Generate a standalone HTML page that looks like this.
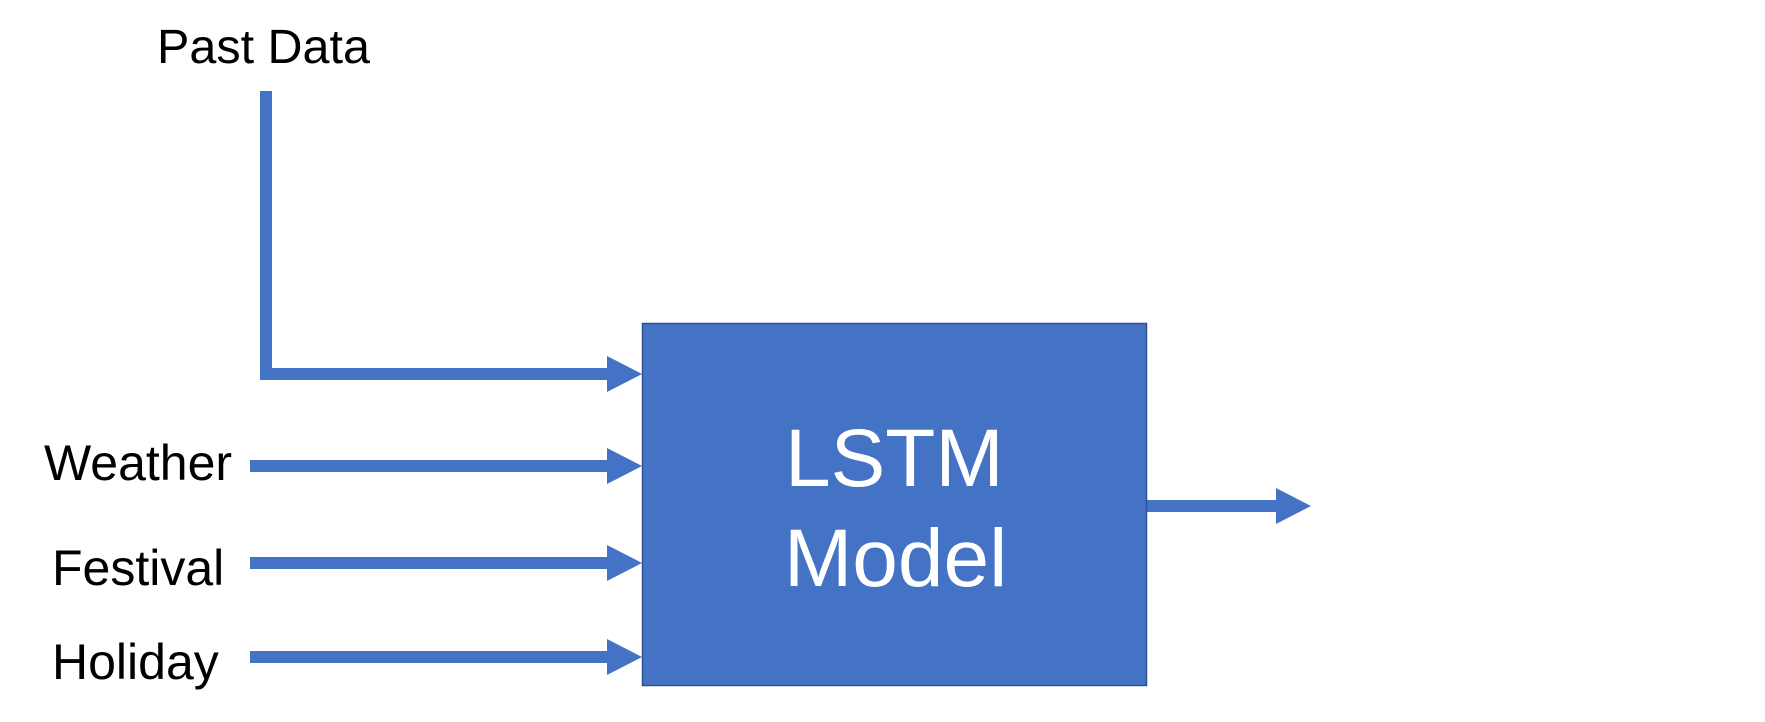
<!DOCTYPE html>
<html><head><meta charset="utf-8"><style>
html,body{margin:0;padding:0;background:#fff;}
svg{display:block;}
text{font-family:"Liberation Sans",Arial,sans-serif;}
</style></head><body>
<svg width="1765" height="722" viewBox="0 0 1765 722">
<g fill="#4472C4">
<rect x="260" y="91" width="12" height="289"/>
<rect x="260" y="368" width="350" height="12"/>
<polygon points="607,356 642,374 607,392"/>
<rect x="250" y="460" width="360" height="12"/>
<polygon points="607,448 642,466 607,484"/>
<rect x="250" y="557" width="360" height="12"/>
<polygon points="607,545 642,563 607,581"/>
<rect x="250" y="651" width="360" height="12"/>
<polygon points="607,639 642,657 607,675"/>
<rect x="1147" y="500" width="132" height="12"/>
<polygon points="1276,488 1311,506 1276,524"/>
</g>
<rect x="642.5" y="323.5" width="504" height="362" fill="#4472C4" stroke="#2F528F" stroke-width="1.5"/>
<text x="785" y="486" font-size="82" fill="#fff">LSTM</text>
<text x="784" y="586" font-size="82" fill="#fff">Model</text>
<text x="157" y="63" font-size="48.5" fill="#000">Past Data</text>
<text x="44" y="480" font-size="50" fill="#000">Weather</text>
<text x="52" y="585" font-size="50" fill="#000">Festival</text>
<text x="52" y="679" font-size="50" fill="#000">Holiday</text>
</svg>
</body></html>
